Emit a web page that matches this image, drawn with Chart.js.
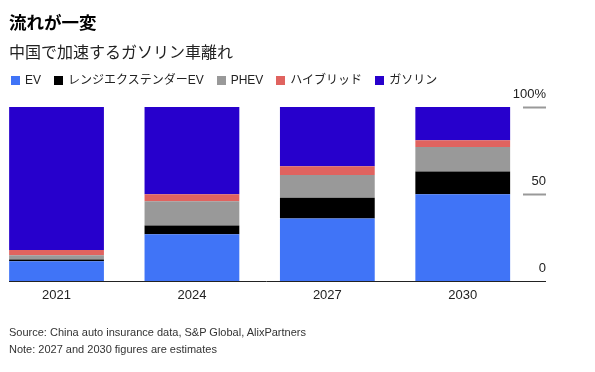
<!DOCTYPE html>
<html lang="ja">
<head>
<meta charset="utf-8">
<script src="https://cdn.jsdelivr.net/npm/chart.js@4/dist/chart.umd.min.js"></script>
<style>
	html, body { margin: 0; padding: 0; background: #fff; }
	body { width: 595px; height: 372px; position: relative; overflow: hidden;
		font-family: "Liberation Sans", "Noto Sans CJK JP", sans-serif; }
	#chartBox { position: absolute; left: 0; top: 0; width: 595px; height: 372px; }
	.txt { position: absolute; left: 9px; white-space: nowrap; }
	#title    { top: 13px; font-size: 17.5px; line-height: 20px; font-weight: bold; color: #000; }
	#subtitle { top: 43px; font-size: 16px; line-height: 20px; color: #222; }
	#legend   { top: 72px; left: 11px; font-size: 12px; line-height: 16px; color: #222; display: flex; }
	#legend .item { display: flex; align-items: center; margin-right: 13px; }
	#legend .sw { width: 9px; height: 9px; margin-right: 5px; }
	#source   { top: 325px; font-size: 11px; line-height: 14px; color: #333; }
	#note     { top: 342px; font-size: 11px; line-height: 14px; color: #333; }
</style>
</head>
<body>
<div id="chartBox"><canvas id="shareChart" width="595" height="372"></canvas></div>
<div class="txt" id="title">流れが一変</div>
<div class="txt" id="subtitle">中国で加速するガソリン車離れ</div>
<div class="txt" id="legend"></div>
<div class="txt" id="source">Source: China auto insurance data, S&amp;P Global, AlixPartners</div>
<div class="txt" id="note">Note: 2027 and 2030 figures are estimates</div>
<script>
/* ── 데이터 (판매 비중 %) ── */
const categories = ['2021', '2024', '2027', '2030'];
const evShare       = [11.5, 27, 36, 50];
const reevShare     = [1, 5, 12, 13];
const phevShare     = [2.5, 14, 13, 14];
const hybridShare   = [3, 4, 5, 4];
const gasolineShare = [82, 50, 34, 19];
const yTicks = [0, 50, 100];

const seriesNames  = ['EV', 'レンジエクステンダーEV', 'PHEV', 'ハイブリッド', 'ガソリン'];
const seriesColors = ['#4074f7', '#000000', '#999999', '#e0635f', '#2700cc'];
const seriesData   = [evShare, reevShare, phevShare, hybridShare, gasolineShare];

const FONT = '"Liberation Sans", "Noto Sans CJK JP", sans-serif';

/* ── 범례 (HTML) ── */
let legendHtml = '';
seriesNames.forEach(function(name, i) {
	legendHtml += '<div class="item"><span class="sw" style="background:' + seriesColors[i] + '"></span>' + name + '</div>';
});
document.getElementById('legend').innerHTML = legendHtml;

/* ── 차트 ── */
const datasets = seriesData.map(function(vals, i) {
	return {
		label: seriesNames[i],
		data: vals.map(function(v, j) { return { x: j, y: v }; }),
		backgroundColor: seriesColors[i],
		borderWidth: 0,
		barPercentage: 0.7,
		categoryPercentage: 1
	};
});

new Chart(document.getElementById('shareChart'), {
	type: 'bar',
	data: { datasets: datasets },
	options: {
		responsive: false,
		animation: false,
		devicePixelRatio: 1,
		layout: { padding: { left: 9, right: 3, top: 107, bottom: 63 } },
		plugins: { legend: { display: false }, tooltip: { enabled: false } },
		scales: {
			x: {
				type: 'linear',
				stacked: true,
				offset: false,
				min: -0.351,
				max: 3.445,
				grid: { display: false, drawTicks: false, offset: false },
				border: { display: true, color: '#222', width: 1 },
				afterBuildTicks: function(scale) {
					scale.ticks = categories.map(function(c, i) { return { value: i }; });
				},
				ticks: {
					autoSkip: false,
					maxRotation: 0,
					padding: 6,
					color: '#222',
					font: { family: FONT, size: 13 },
					callback: function(v) { return categories[v] || ''; }
				}
			},
			y: {
				position: 'right',
				stacked: true,
				min: yTicks[0],
				max: yTicks[yTicks.length - 1],
				border: { display: false },
				grid: {
					drawOnChartArea: false,
					drawTicks: true,
					tickLength: 23,
					tickColor: function(ctx) { return ctx.tick && ctx.tick.value === 0 ? '#222' : '#999'; },
					tickWidth: function(ctx) { return ctx.tick && ctx.tick.value === 0 ? 1 : 2; }
				},
				afterBuildTicks: function(scale) {
					scale.ticks = yTicks.map(function(v) { return { value: v }; });
				},
				ticks: {
					mirror: true,
					padding: 23,
					labelOffset: -12.5,
					color: '#222',
					font: { family: FONT, size: 13 },
					callback: function(v) { return v === 100 ? '100%' : String(v); }
				}
			}
		}
	}
});
</script>
</body>
</html>
